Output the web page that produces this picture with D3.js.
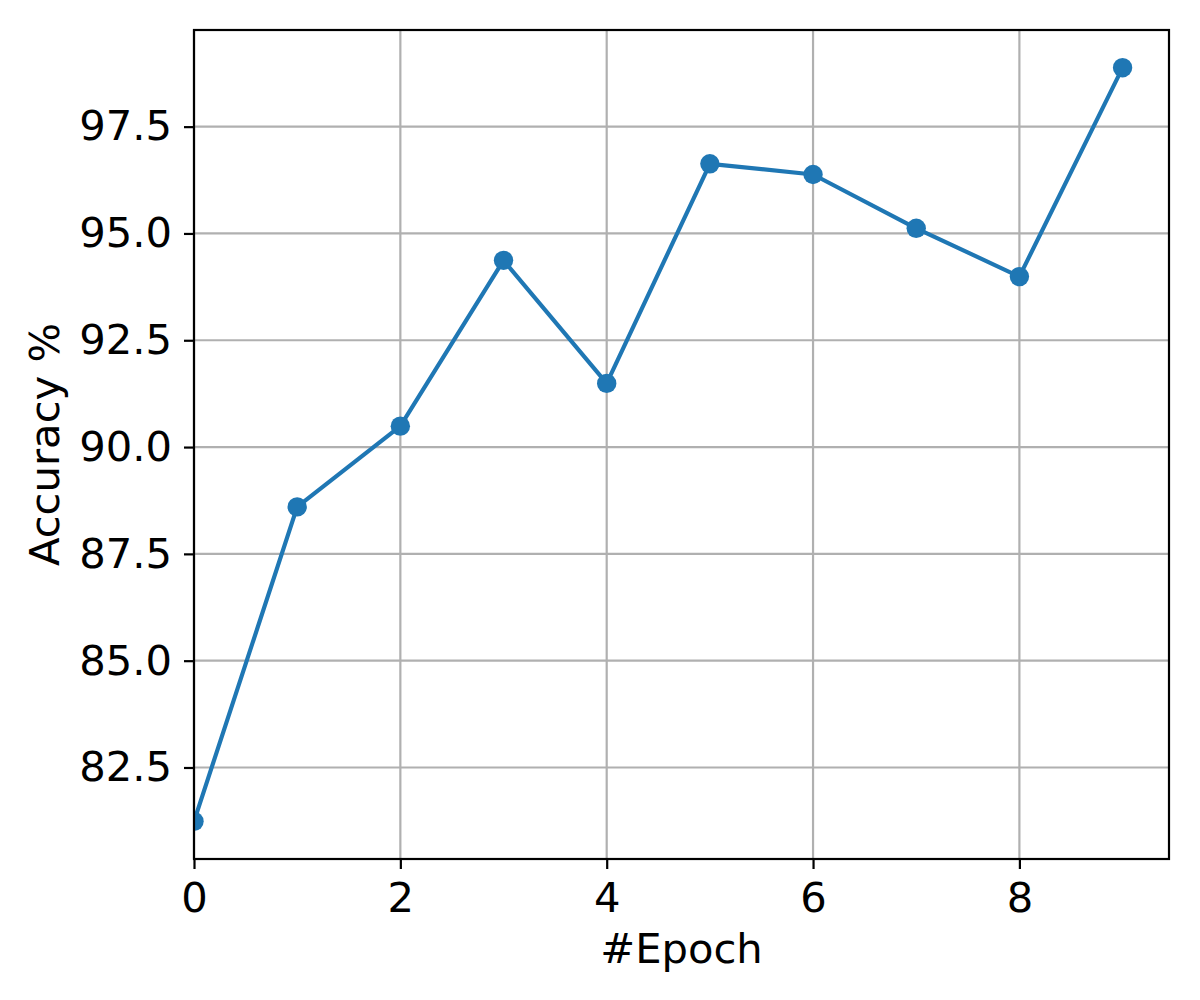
<!DOCTYPE html>
<html>
<head>
<meta charset="utf-8">
<script src="https://cdn.jsdelivr.net/npm/d3@7"></script>
<style>
  html, body { margin: 0; padding: 0; background: #fff; }
  svg { display: block; }
  text { font-family: "DejaVu Sans", sans-serif; fill: #000; }
</style>
</head>
<body>
<svg id="chart" width="1200" height="1000"></svg>
<script>
const epochs = [0, 1, 2, 3, 4, 5, 6, 7, 8, 9];
const accuracy = [81.24, 88.60, 90.49, 94.37, 91.49, 96.63, 96.38, 95.12, 93.99, 98.88];
const xTicks = [0, 2, 4, 6, 8];
const yTicks = [82.5, 85.0, 87.5, 90.0, 92.5, 95.0, 97.5];
const xLabel = "#Epoch";
const yLabel = "Accuracy %";

(function () {
const svg = d3.select("#chart");
const pLeft = 194, pRight = 1169, pTop = 30, pBottom = 859;
const fontSize = 41.7;

const x = d3.scaleLinear().domain([0, 9.45]).range([pLeft, pRight]);
const y = d3.scaleLinear().domain([80.358, 99.762]).range([pBottom, pTop]);

svg.append("rect").attr("width", 1200).attr("height", 1000).attr("fill", "#fff");

svg.append("defs").append("clipPath").attr("id", "clip")
  .append("rect").attr("x", pLeft).attr("y", pTop)
  .attr("width", pRight - pLeft).attr("height", pBottom - pTop);

// grid
const grid = svg.append("g");
grid.selectAll("line.gx").data(xTicks).join("line").attr("class", "gx")
  .attr("x1", d => x(d)).attr("x2", d => x(d))
  .attr("y1", pTop).attr("y2", pBottom)
  .attr("stroke", "#b0b0b0").attr("stroke-width", 2.2);
grid.selectAll("line.gy").data(yTicks).join("line").attr("class", "gy")
  .attr("y1", d => y(d)).attr("y2", d => y(d))
  .attr("x1", pLeft).attr("x2", pRight)
  .attr("stroke", "#b0b0b0").attr("stroke-width", 2.2);

// data
const plot = svg.append("g").attr("clip-path", "url(#clip)");
const pts = epochs.map((e, i) => [e, accuracy[i]]);
plot.append("path")
  .attr("d", d3.line().x(d => x(d[0])).y(d => y(d[1]))(pts))
  .attr("fill", "none").attr("stroke", "#1f77b4").attr("stroke-width", 4.17)
  .attr("stroke-linejoin", "round").attr("stroke-linecap", "square");
plot.selectAll("circle").data(pts).join("circle")
  .attr("cx", d => x(d[0])).attr("cy", d => y(d[1]))
  .attr("r", 9.7).attr("fill", "#1f77b4");

// axes
const xAxis = d3.axisBottom(x).tickValues(xTicks).tickFormat(d3.format("d"))
  .tickSize(10).tickPadding(10);
const yAxis = d3.axisLeft(y).tickValues(yTicks).tickFormat(d3.format(".1f"))
  .tickSize(10).tickPadding(12);

const gx = svg.append("g").attr("transform", `translate(0,${pBottom})`).call(xAxis);
const gy = svg.append("g").attr("transform", `translate(${pLeft},0)`).call(yAxis);
[gx, gy].forEach(g => {
  g.select(".domain").remove();
  g.selectAll(".tick line").attr("stroke", "#000").attr("stroke-width", 2.2);
  g.selectAll(".tick text").attr("font-size", fontSize)
    .attr("font-family", "DejaVu Sans").attr("fill", "#000");
});
gx.selectAll(".tick text").attr("dy", null).attr("y", 53);

// spines
svg.append("rect").attr("x", pLeft).attr("y", pTop)
  .attr("width", pRight - pLeft).attr("height", pBottom - pTop)
  .attr("fill", "none").attr("stroke", "#000").attr("stroke-width", 2.2);

// labels
svg.append("text").attr("x", (pLeft + pRight) / 2).attr("y", 963)
  .attr("text-anchor", "middle").attr("font-size", fontSize).text(xLabel);
svg.append("text")
  .attr("transform", `translate(59,${(pTop + pBottom) / 2}) rotate(-90)`)
  .attr("text-anchor", "middle").attr("font-size", fontSize).text(yLabel);
})();
</script>
</body>
</html>
